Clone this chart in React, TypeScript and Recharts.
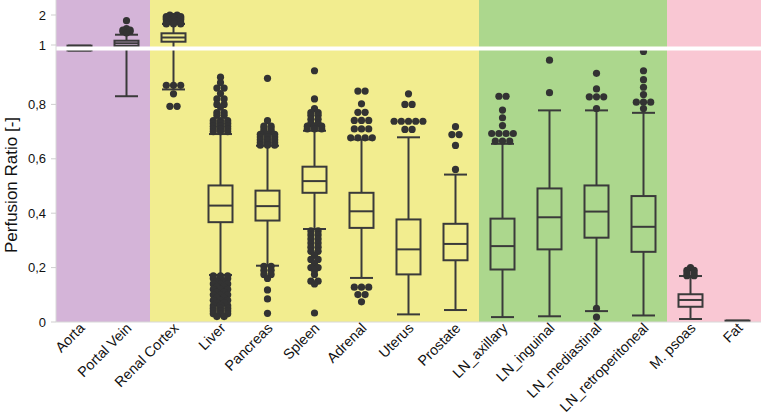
import React from 'react';
import { ComposedChart, Bar, XAxis, YAxis, ReferenceArea, ReferenceLine } from 'recharts';

const categories = ['Aorta', 'Portal Vein', 'Renal Cortex', 'Liver', 'Pancreas', 'Spleen', 'Adrenal', 'Uterus', 'Prostate', 'LN_axillary', 'LN_inguinal', 'LN_mediastinal', 'LN_retroperitoneal', 'M. psoas', 'Fat'];

const whiskerLow = [0.983, 0.83, 0.855, 0.173, 0.207, 0.342, 0.162, 0.028, 0.044, 0.018, 0.021, 0.04, 0.024, 0.011, 0.003];
const q1 = [0.983, 0.997, 1.11, 0.367, 0.373, 0.475, 0.346, 0.175, 0.227, 0.193, 0.267, 0.31, 0.258, 0.056, 0.003];
const median = [0.99, 1.057, 1.25, 0.428, 0.426, 0.518, 0.407, 0.267, 0.287, 0.279, 0.385, 0.406, 0.35, 0.081, 0.004];
const q3 = [0.998, 1.143, 1.39, 0.502, 0.483, 0.571, 0.475, 0.377, 0.361, 0.38, 0.491, 0.502, 0.463, 0.102, 0.005];
const whiskerHigh = [0.998, 1.343, 1.7, 0.691, 0.648, 0.703, 0.671, 0.679, 0.542, 0.655, 0.778, 0.778, 0.769, 0.169, 0.005];

// outliers: [value, number of points at that value]
const outliers: [number, number][][] = [
  [],
  [[1.81, 1], [1.55, 1], [1.5, 2], [1.45, 2], [1.4, 1]],
  [[2.0, 2], [1.95, 3], [1.9, 3], [1.85, 3], [1.8, 2], [1.75, 3], [1.7, 3], [0.87, 3], [0.839, 1], [0.793, 2]],
  [[0.9, 1], [0.88, 1], [0.86, 2], [0.84, 1], [0.82, 2], [0.8, 2], [0.79, 1], [0.77, 2], [0.76, 2], [0.74, 3], [0.73, 3], [0.72, 3], [0.71, 3], [0.7, 3],
   [0.17, 3], [0.16, 3], [0.15, 2], [0.14, 3], [0.13, 2], [0.12, 3], [0.11, 2], [0.1, 3], [0.09, 2], [0.08, 3], [0.07, 2], [0.06, 3], [0.05, 3], [0.04, 3], [0.03, 3], [0.02, 2]],
  [[0.896, 1], [0.74, 1], [0.72, 2], [0.71, 2], [0.7, 2], [0.69, 3], [0.68, 3], [0.67, 3], [0.66, 3], [0.65, 3],
   [0.205, 2], [0.19, 2], [0.175, 2], [0.16, 1], [0.118, 1], [0.085, 1], [0.032, 1]],
  [[0.92, 1], [0.82, 1], [0.785, 1], [0.77, 2], [0.76, 2], [0.745, 2], [0.73, 2], [0.72, 3], [0.71, 3],
   [0.335, 2], [0.32, 2], [0.305, 2], [0.29, 2], [0.275, 2], [0.26, 2], [0.245, 1], [0.23, 2], [0.215, 1], [0.2, 2], [0.19, 1], [0.175, 1], [0.15, 2], [0.14, 1], [0.033, 1]],
  [[0.849, 2], [0.802, 1], [0.771, 2], [0.741, 3], [0.71, 3], [0.677, 4], [0.128, 3], [0.101, 2], [0.074, 1]],
  [[0.839, 1], [0.8, 2], [0.738, 5], [0.708, 2]],
  [[0.718, 1], [0.689, 2], [0.649, 1], [0.561, 1]],
  [[0.83, 2], [0.779, 1], [0.751, 1], [0.722, 1], [0.693, 4], [0.665, 3]],
  [[0.953, 1], [0.843, 1]],
  [[0.912, 1], [0.857, 1], [0.828, 3], [0.785, 1], [0.05, 1], [0.018, 1]],
  [[0.98, 1], [0.92, 1], [0.891, 1], [0.863, 1], [0.836, 1], [0.808, 3], [0.785, 1]],
  [[0.2, 1], [0.19, 2], [0.18, 2], [0.17, 2]],
  [],
];

const yTickValues = [0, 0.2, 0.4, 0.6, 0.8, 1, 2];
const yTickLabels = ['0', '0,2', '0,4', '0,6', '0,8', '1', '2'];

const regionStart = ['Aorta', 'Renal Cortex', 'LN_axillary', 'M. psoas'];
const regionEnd = ['Portal Vein', 'Prostate', 'LN_retroperitoneal', 'Fat'];
const regionColor = ['#d4b4d8', '#f2ed8f', '#acd78d', '#f9c7d3'];

// broken axis: compressed scale above 1
const YMAX = 322;
const toPos = (v: number) => {
  if (v <= 0.9) return v * 272;
  if (v <= 1) return 244.8 + (v - 0.9) * 322;
  return 277 + (v - 1) * 30;
};

const rows = categories.map((name, i) => ({
  name,
  lo: whiskerLow[i], q1: q1[i], med: median[i], q3: q3[i], hi: whiskerHigh[i], out: outliers[i],
  span: [0, YMAX],
}));

const tickPositions = yTickValues.map(toPos);
const FONT = '"Liberation Sans", Arial, Helvetica, sans-serif';
const INK = '#3a3a3a';

const BoxShape = (props: any) => {
  const { x, y, width, height, payload } = props;
  const cx = x + width / 2;
  const px = (v: number) => y + height * (1 - toPos(v) / YMAX);
  const bw = 12;
  const cw = 11.5;
  const dots: React.ReactNode[] = [];
  (payload.out as [number, number][]).forEach(([v, n], k) => {
    for (let j = 0; j < n; j++) {
      dots.push(<circle key={k + '-' + j} cx={cx + (j - (n - 1) / 2) * 7.2} cy={px(v)} r={3.6} fill="#333" />);
    }
  });
  return (
    <g>
      <line x1={cx} x2={cx} y1={px(payload.hi)} y2={px(payload.q3)} stroke={INK} strokeWidth={2} />
      <line x1={cx} x2={cx} y1={px(payload.q1)} y2={px(payload.lo)} stroke={INK} strokeWidth={2} />
      <line x1={cx - cw} x2={cx + cw} y1={px(payload.hi)} y2={px(payload.hi)} stroke={INK} strokeWidth={2} />
      <line x1={cx - cw} x2={cx + cw} y1={px(payload.lo)} y2={px(payload.lo)} stroke={INK} strokeWidth={2} />
      <rect x={cx - bw} y={px(payload.q3)} width={bw * 2} height={Math.max(0.5, px(payload.q1) - px(payload.q3))} fill="none" stroke={INK} strokeWidth={2} />
      <line x1={cx - bw} x2={cx + bw} y1={px(payload.med)} y2={px(payload.med)} stroke={INK} strokeWidth={2} />
      {dots}
    </g>
  );
};

const XTick = (props: any) => {
  const { x, y, payload } = props;
  const ax = x + 6;
  const ay = y - 1;
  return (
    <text x={ax} y={ay} textAnchor="end" fontSize={14.3} fill="#111" fontFamily={FONT} transform={`rotate(-45, ${ax}, ${ay})`}>
      {payload.value}
    </text>
  );
};

const YLabel = () => {
  const lx = 17;
  const ly = 185;
  return (
    <text x={lx} y={ly} textAnchor="middle" fontSize={17} fill="#111" fontFamily={FONT} transform={`rotate(-90, ${lx}, ${ly})`}>
      Perfusion Ratio [-]
    </text>
  );
};

export default function App() {
  return (
    <div style={{ position: 'absolute', left: 0, top: 0, width: 762, height: 416, background: '#fff' }}>
      <ComposedChart width={762} height={416} data={rows} margin={{ top: 0, right: 1, bottom: 0, left: 0 }} barCategoryGap={0}>
        {regionStart.map((s, i) => (
          <ReferenceArea key={s} x1={s} x2={regionEnd[i]} fill={regionColor[i]} fillOpacity={1} stroke="none" ifOverflow="visible" />
        ))}
        <XAxis dataKey="name" type="category" interval={0} height={94} tick={<XTick />} tickLine={false} axisLine={{ stroke: '#d8d8d8' }} />
        <YAxis
          type="number"
          domain={[0, YMAX]}
          ticks={tickPositions}
          tickFormatter={(v: number) => yTickLabels[tickPositions.indexOf(v)] ?? ''}
          width={56}
          tickSize={5}
          tickMargin={5}
          axisLine={{ stroke: '#d8d8d8' }}
          tickLine={{ stroke: '#cfcfcf' }}
          tick={{ fontSize: 13, fill: '#111', fontFamily: FONT }}
          allowDataOverflow
          label={<YLabel />}
        />
        <Bar dataKey="span" shape={<BoxShape />} isAnimationActive={false} />
        <ReferenceLine y={273.5} stroke="#ffffff" strokeWidth={4} ifOverflow="visible" />
      </ComposedChart>
    </div>
  );
}
